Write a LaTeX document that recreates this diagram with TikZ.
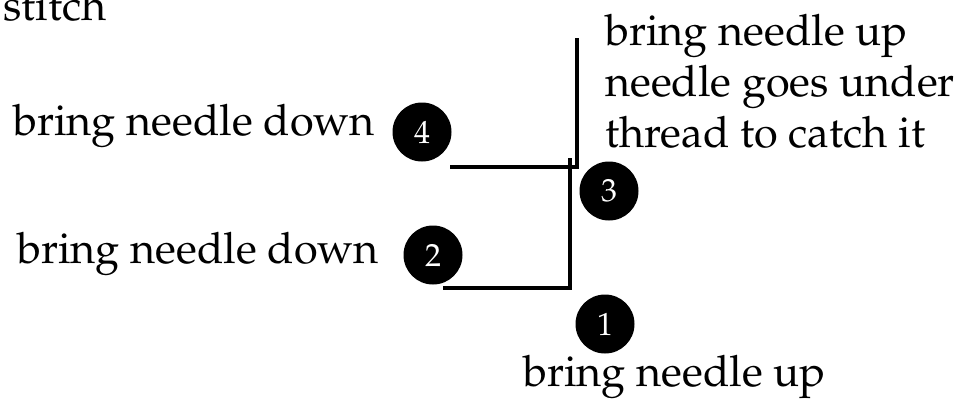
\documentclass[tikz,border=0pt]{standalone}
\usepackage[T1]{fontenc}
\usepackage{mathpazo}
\begin{document}
\begin{tikzpicture}[x=1pt,y=-1pt,
  lbl/.style={inner sep=0pt,font=\fontsize{43.2}{51}\selectfont},
  dot/.style={circle,fill=black,text=white,minimum size=59pt,inner sep=0pt,font=\fontsize{32}{36}\selectfont},
  thread/.style={line width=4.2pt,line cap=butt,line join=miter}]
\useasboundingbox (0,0) rectangle (963,399);
\node[lbl,anchor=base east] (title) at (107,20) {stitch};
\node[dot] (c4) at (422,132) {4};
\node[dot] (c2) at (433,255) {2};
\node[dot] (c3) at (609,191) {3};
\node[dot] (c1) at (605,324) {1};
\node[lbl,anchor=base west] (t4) at (13,135) {bring needle down};
\node[lbl,anchor=base west] (t2) at (17,263) {bring needle down};
\node[lbl,anchor=base west] (t1) at (523,386) {bring needle up};
\node[lbl,anchor=base west,align=left] (t3) at (605,147) {bring needle up\\needle goes under\\thread to catch it};
\coordinate (a0) at (577,38);
\coordinate (a1) at (577,167);
\coordinate (a2) at (450,167);
\coordinate (b0) at (570,158);
\coordinate (b1) at (570,288);
\coordinate (b2) at (443,288);
\draw[thread] (a0) -- (a1) -- (a2);
\draw[thread] (b0) -- (b1) -- (b2);
\end{tikzpicture}
\end{document}
